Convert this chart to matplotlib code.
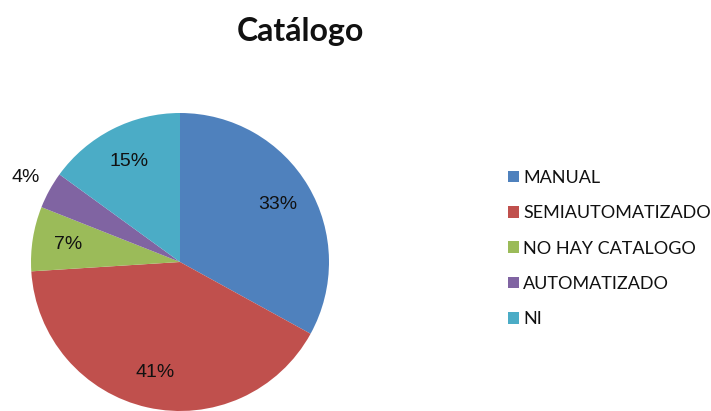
import numpy as np
import matplotlib
matplotlib.use("Agg")
import matplotlib.pyplot as plt

title = "Catálogo"
categories = ["MANUAL", "SEMIAUTOMATIZADO", "NO HAY CATALOGO", "AUTOMATIZADO", "NI"]
values = [33, 41, 7, 4, 15]
colors = ["#4F81BD", "#C0504D", "#9BBB59", "#8064A2", "#4BACC6"]

W, H = 711, 411
fig = plt.figure(figsize=(W / 100, H / 100), dpi=100)
ax = fig.add_axes([0, 0, 1, 1])

cx, cy, r = 180, H - 262, 149
wedges, texts, autotexts = ax.pie(
    values, colors=colors, startangle=90, counterclock=False,
    center=(cx, cy), radius=r, autopct="%1.0f%%", pctdistance=0.76,
    textprops=dict(family="Liberation Sans", fontsize=14, color="#111111"),
    wedgeprops=dict(linewidth=0), frame=True)
ax.set_xlim(0, W)
ax.set_ylim(0, H)
ax.set_aspect("equal")
ax.axis("off")

# small slice label placed outside
for w, t, v in zip(wedges, autotexts, values):
    if v < 5:
        ang = np.deg2rad((w.theta1 + w.theta2) / 2)
        t.set_position((cx + 1.18 * r * np.cos(ang), cy + 1.18 * r * np.sin(ang)))

fig.text(300 / W, 1 - 31 / H, title, ha="center", va="center",
         family="Lato", fontweight="bold", fontsize=23, color="#111111")

leg = ax.legend(wedges, categories, loc="upper left",
                bbox_to_anchor=(508 / W, 1 - 170 / H), bbox_transform=fig.transFigure,
                frameon=False, prop=dict(family="Lato", size=13),
                handlelength=0.62, handleheight=0.62, handletextpad=0.22,
                labelspacing=1.07, borderaxespad=0, borderpad=0)
for t in leg.get_texts():
    t.set_color("#111111")

fig.savefig("out.png", dpi=100)
